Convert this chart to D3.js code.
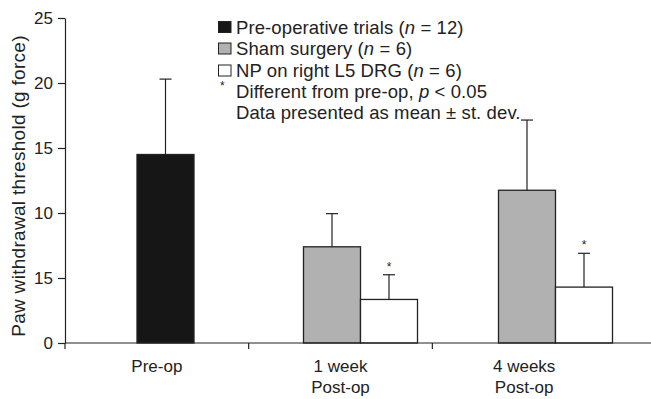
<!DOCTYPE html>
<html>
<head>
<meta charset="utf-8">
<script src="https://cdn.jsdelivr.net/npm/d3@7"></script>
<style>
  body { margin: 0; background: #fff; }
  text { font-family: "Liberation Sans", Arial, Helvetica, sans-serif; fill: #222; }
</style>
</head>
<body>
<div id="chart"></div>
<script>
const width = 651, height = 399;

// data
const groups = ["Pre-op", "1 week", "4 weeks"];
const groupLabels = [["Pre-op"], ["1 week", "Post-op"], ["4 weeks", "Post-op"]];
const barGroup = ["Pre-op", "1 week", "1 week", "4 weeks", "4 weeks"];
const barSeries = ["pre", "sham", "np", "sham", "np"];
const barMean = [14.5, 7.4, 3.35, 11.75, 4.3];
const barSD = [5.8, 2.55, 1.9, 5.4, 2.6];
const barStar = [false, false, true, false, true];
const yTicks = [0, 5, 10, 15, 20, 25];
const yTickLabels = ["0", "15", "10", "15", "20", "25"];   // as printed in the original

const seriesKeys = ["pre", "sham", "np"];
const seriesFill = ["#161616", "#b1b1b1", "#ffffff"];

const bars = barMean.map(function(m, i) {
    return {group: barGroup[i], series: barSeries[i], mean: m, sd: barSD[i], star: barStar[i]};
});

let svg = d3.select("#chart").append("svg")
    .attr("width", width)
    .attr("height", height);

let y = d3.scaleLinear().domain([0, 25]).range([343, 18]);

// bar placement
let xBar = d3.scaleBand().domain(groups).range([68, 653]);
let barW = 57;
let color = d3.scaleOrdinal().domain(seriesKeys).range(seriesFill);

function barX(d) {
    let c = xBar(d.group) + xBar.bandwidth() / 2;
    let n = bars.filter(function(b) { return b.group === d.group; });
    let k = n.indexOf(d);
    return c - n.length * barW / 2 + k * barW;
}

// axis label placement
let xAxis = d3.scaleBand().domain(groups).range([65, 616]);

// y axis
let yAxis = svg.append("g")
    .attr("transform", "translate(65,0)")
    .call(d3.axisLeft(y).tickValues(yTicks)
        .tickFormat(function(d, i) { return yTickLabels[i]; })
        .tickSize(7).tickPadding(5).tickSizeOuter(0));
yAxis.select(".domain").attr("stroke", "#222").attr("stroke-width", 1.2);
yAxis.selectAll(".tick line").attr("stroke", "#222").attr("stroke-width", 1.2);
yAxis.selectAll("text").style("font-size", "17px").attr("fill", "#222")
    .attr("font-family", "Liberation Sans, Arial, sans-serif");

// bars
svg.append("g").selectAll("rect")
    .data(bars)
    .enter()
    .append("rect")
    .attr("x", barX)
    .attr("y", function(d) { return y(d.mean); })
    .attr("width", barW)
    .attr("height", function(d) { return y(0) - y(d.mean); })
    .attr("fill", function(d) { return color(d.series); })
    .attr("stroke", "#222")
    .attr("stroke-width", 1.3);

// error bars
let err = svg.append("g").selectAll("g")
    .data(bars)
    .enter()
    .append("g")
    .attr("stroke", "#222")
    .attr("stroke-width", 1.2);

err.append("line")
    .attr("x1", function(d) { return barX(d) + barW / 2; })
    .attr("x2", function(d) { return barX(d) + barW / 2; })
    .attr("y1", function(d) { return y(d.mean); })
    .attr("y2", function(d) { return y(d.mean + d.sd); });

err.append("line")
    .attr("x1", function(d) { return barX(d) + barW / 2 - 6; })
    .attr("x2", function(d) { return barX(d) + barW / 2 + 6; })
    .attr("y1", function(d) { return y(d.mean + d.sd); })
    .attr("y2", function(d) { return y(d.mean + d.sd); });

// significance stars
svg.append("g").selectAll("text")
    .data(bars.filter(function(d) { return d.star; }))
    .enter()
    .append("text")
    .attr("x", function(d) { return barX(d) + barW / 2; })
    .attr("y", function(d) { return y(d.mean + d.sd) - 4; })
    .attr("text-anchor", "middle")
    .style("font-size", "12px")
    .text("*");

// x axis line and ticks
svg.append("line")
    .attr("x1", 65).attr("x2", 651)
    .attr("y1", y(0)).attr("y2", y(0))
    .attr("stroke", "#222").attr("stroke-width", 1.2);

svg.append("g").selectAll("line")
    .data(groups)
    .enter()
    .append("line")
    .attr("x1", function(d) { return xAxis(d); })
    .attr("x2", function(d) { return xAxis(d); })
    .attr("y1", y(0)).attr("y2", y(0) + 6)
    .attr("stroke", "#222").attr("stroke-width", 1.2);

let xl = svg.append("g").selectAll("text")
    .data(groups)
    .enter()
    .append("text")
    .attr("x", function(d) { return xAxis(d) + xAxis.bandwidth() / 2; })
    .attr("y", 372)
    .attr("text-anchor", "middle")
    .style("font-size", "17px");

xl.selectAll("tspan")
    .data(function(d, i) { return groupLabels[i]; })
    .enter()
    .append("tspan")
    .attr("x", function() { return d3.select(this.parentNode).attr("x"); })
    .attr("dy", function(d, i) { return i === 0 ? 0 : 21; })
    .text(function(d) { return d; });

// y axis title
svg.append("text")
    .attr("transform", "translate(25,186) rotate(-90)")
    .attr("text-anchor", "middle")
    .style("font-size", "19px")
    .style("letter-spacing", "0.3px")
    .text("Paw withdrawal threshold (g force)");

// legend
let legendRows = [
    {key: "pre", parts: ["Pre-operative trials (", "n", " = 12)"]},
    {key: "sham", parts: ["Sham surgery (", "n", " = 6)"]},
    {key: "np", parts: ["NP on right L5 DRG (", "n", " = 6)"]}
];
let legendBase = [33.5, 55, 77];
let legendFont = "18.5px";

let legend = svg.append("g");

legend.selectAll("rect")
    .data(legendRows)
    .enter()
    .append("rect")
    .attr("x", 218.5)
    .attr("y", function(d, i) { return legendBase[i] - 12; })
    .attr("width", 12.5)
    .attr("height", 11)
    .attr("fill", function(d) { return color(d.key); })
    .attr("stroke", "#222")
    .attr("stroke-width", 1);

let lt = legend.selectAll("text.row")
    .data(legendRows)
    .enter()
    .append("text")
    .attr("class", "row")
    .attr("x", 236)
    .attr("y", function(d, i) { return legendBase[i]; })
    .style("font-size", legendFont)
    .style("letter-spacing", "0.1px");

lt.selectAll("tspan")
    .data(function(d) { return d.parts; })
    .enter()
    .append("tspan")
    .style("font-style", function(d, i) { return i === 1 ? "italic" : "normal"; })
    .text(function(d) { return d; });

legend.append("text")
    .attr("x", 220)
    .attr("y", 90)
    .style("font-size", "12px")
    .text("*");

let note = legend.append("text")
    .attr("x", 236)
    .attr("y", 98)
    .style("font-size", legendFont)
    .style("letter-spacing", "0.1px");
note.append("tspan").text("Different from pre-op, ");
note.append("tspan").style("font-style", "italic").text("p");
note.append("tspan").text(" < 0.05");

legend.append("text")
    .attr("x", 236)
    .attr("y", 119)
    .style("font-size", legendFont)
    .style("letter-spacing", "0.1px")
    .text("Data presented as mean \u00b1 st. dev.");
</script>
</body>
</html>
